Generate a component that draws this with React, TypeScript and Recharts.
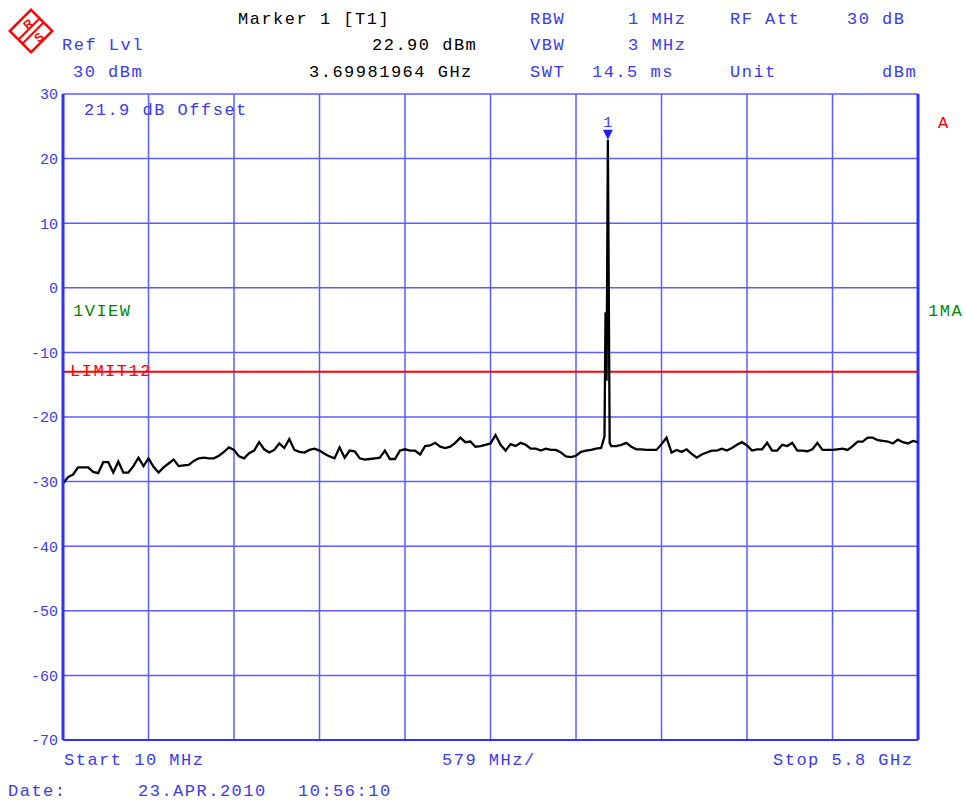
import { LineChart, Line, XAxis, YAxis, CartesianGrid, ReferenceLine, ReferenceDot } from "recharts";

// Sweep settings
const START_MHZ = 10;
const STOP_MHZ = 5800;

// Trace level (dBm) at evenly spaced sweep points
const traceDbm = [
  -30.3, -29.3, -28.9, -27.8, -27.8, -27.8, -28.5, -28.7, -27.0, -27.0,
  -28.6, -26.9, -28.6, -28.6, -27.6, -26.3, -27.6, -26.4, -27.7, -28.6,
  -27.8, -27.2, -26.6, -27.6, -27.5, -27.4, -26.8, -26.4, -26.3, -26.4,
  -26.4, -26.0, -25.4, -24.7, -25.1, -26.1, -26.4, -25.6, -25.2, -23.9,
  -25.0, -25.5, -25.1, -24.1, -24.8, -23.4, -25.1, -25.4, -25.5, -25.1,
  -24.9, -25.2, -25.7, -26.1, -26.4, -24.7, -26.3, -25.2, -25.3, -26.4,
  -26.6, -26.5, -26.4, -26.3, -25.2, -26.5, -26.5, -25.2, -25.0, -25.2,
  -25.2, -25.8, -24.5, -24.4, -24.0, -24.6, -24.8, -24.6, -24.0, -23.2,
  -23.9, -23.8, -24.6, -24.5, -24.3, -24.1, -22.8, -24.3, -25.2, -24.2,
  -24.5, -24.0, -24.3, -24.9, -24.9, -25.2, -24.9, -25.1, -25.1, -25.5,
  -26.1, -26.2, -26.0, -25.4, -25.2, -25.1, -24.9, -24.8, -4.3, -24.5,
  -24.5, -24.3, -24.0, -24.6, -25.0, -25.0, -25.1, -25.1, -25.1, -24.2,
  -23.2, -25.5, -25.1, -25.4, -25.0, -25.7, -26.3, -25.8, -25.5, -25.2,
  -25.2, -24.9, -25.2, -24.8, -24.3, -23.9, -24.4, -25.2, -25.0, -25.0,
  -24.0, -25.2, -25.2, -24.3, -24.5, -24.0, -25.2, -25.2, -25.3, -25.0,
  -24.0, -25.1, -25.1, -25.1, -25.0, -24.9, -25.1, -24.5, -23.8, -23.8,
  -23.2, -23.2, -23.6, -23.7, -23.8, -24.1, -23.5, -23.9, -24.1, -23.7,
  -23.9,
];

// Extra points around the carrier (narrower than one sweep step)
const peakFreqMhz = [3677, 3684, 3691, 3699.8, 3712];
const peakDbm = [-23.0, -3.8, -14.4, 22.9, -24.0];

const freqTicks = [10, 589, 1168, 1747, 2326, 2905, 3484, 4063, 4642, 5221, 5800];
const levelTicks = [-70, -60, -50, -40, -30, -20, -10, 0, 10, 20, 30];

const LIMIT_DBM = -13;
const MARKER_MHZ = 3699.8;
const MARKER_DBM = 22.9;

const MONO = "'Liberation Mono', 'DejaVu Sans Mono', monospace";
const BLUE = "#3a3af4";
const GRID = "#5c5cff";
const GREEN = "#008a00";
const RED = "#ff0000";

const step = (STOP_MHZ - START_MHZ) / (traceDbm.length - 1);
const traceData = [
  ...traceDbm.map((level, i) => ({ f: START_MHZ + i * step, level })),
  ...peakFreqMhz.map((f, i) => ({ f, level: peakDbm[i] })),
].sort((a, b) => a.f - b.f);

function MarkerShape(props: any) {
  const { cx, cy } = props;
  return (
    <g>
      <polygon points={`${cx - 5},${cy - 10} ${cx + 5},${cy - 10} ${cx},${cy}`} fill="#2020ff" />
      <text x={cx} y={cy - 13} textAnchor="middle" fill={BLUE} fontSize={15} fontFamily={MONO}>
        1
      </text>
    </g>
  );
}

function LimitLabel(props: any) {
  const { viewBox } = props;
  return (
    <text x={viewBox.x + 7} y={viewBox.y + 4} fill={RED} fontSize={17} fontFamily={MONO} letterSpacing={1.5}>
      LIMIT12
    </text>
  );
}

function T({ x, y, c = BLUE, children }: { x: number; y: number; c?: string; children: string }) {
  return (
    <text x={x} y={y} fill={c} fontSize={17} fontFamily={MONO} letterSpacing={1.5} style={{ whiteSpace: "pre" }}>
      {children}
    </text>
  );
}

function Logo() {
  return (
    <g transform="translate(31,31)">
      <rect x={-15} y={-15} width={30} height={30} transform="rotate(45)" fill="none" stroke={RED} strokeWidth={2.5} />
      <line x1={-13} y1={9} x2={9} y2={-13} stroke={RED} strokeWidth={2} />
      <line x1={-9} y1={13} x2={13} y2={-9} stroke={RED} strokeWidth={2} />
      <text x={-6} y={0} transform="rotate(-40 -6 -4)" fill={RED} fontSize={12} fontWeight="bold" fontFamily="Arial, sans-serif">
        R
      </text>
      <text x={5} y={13} transform="rotate(-40 5 9)" fill={RED} fontSize={12} fontWeight="bold" fontFamily="Arial, sans-serif">
        S
      </text>
    </g>
  );
}

export default function App() {
  return (
    <div style={{ position: "absolute", left: 0, top: 0, width: 966, height: 802, background: "#fff" }}>
      <LineChart width={966} height={802} data={traceData} margin={{ top: 94, right: 48, bottom: 32, left: 0 }}>
        <CartesianGrid stroke={GRID} strokeWidth={1.5} vertical={false} />
        <XAxis
          type="number"
          dataKey="f"
          domain={[START_MHZ, STOP_MHZ]}
          ticks={freqTicks}
          tick={false}
          tickLine={false}
          axisLine={{ stroke: "#3030ff", strokeWidth: 2 }}
          height={30}
          allowDataOverflow
        />
        <YAxis
          type="number"
          domain={[-70, 30]}
          ticks={levelTicks}
          interval={0}
          width={63}
          tickSize={0}
          tickMargin={5}
          tickLine={false}
          axisLine={{ stroke: "#3030ff", strokeWidth: 3 }}
          tick={{ fill: BLUE, fontSize: 15, fontFamily: MONO }}
        />
        {freqTicks.map((f) => (
          <ReferenceLine key={f} x={f} stroke={GRID} strokeWidth={1.5} />
        ))}
        <ReferenceLine x={STOP_MHZ} stroke="#3030ff" strokeWidth={3} />
        <ReferenceLine y={LIMIT_DBM} stroke={RED} strokeWidth={2} label={LimitLabel} />
        <Line
          type="linear"
          dataKey="level"
          stroke="#000"
          strokeWidth={2.3}
          dot={false}
          isAnimationActive={false}
        />
        <ReferenceDot x={MARKER_MHZ} y={MARKER_DBM} r={0} shape={MarkerShape} />
      </LineChart>

      <svg width={966} height={802} style={{ position: "absolute", left: 0, top: 0, pointerEvents: "none" }}>
        <Logo />
        {/* Header */}
        <T x={238} y={24} c="#000">Marker 1 [T1]</T>
        <T x={530} y={24}>RBW</T>
        <T x={628} y={24}>1 MHz</T>
        <T x={730} y={24}>RF Att</T>
        <T x={847} y={24}>30 dB</T>
        <T x={62} y={50}>Ref Lvl</T>
        <T x={372} y={50} c="#000">22.90 dBm</T>
        <T x={530} y={50}>VBW</T>
        <T x={628} y={50}>3 MHz</T>
        <T x={73} y={77}>30 dBm</T>
        <T x={309} y={77} c="#000">3.69981964 GHz</T>
        <T x={530} y={77}>SWT</T>
        <T x={592} y={77}>14.5 ms</T>
        <T x={730} y={77}>Unit</T>
        <T x={882} y={77}>dBm</T>
        {/* Inside / beside the grid */}
        <T x={84} y={115}>21.9 dB Offset</T>
        <T x={73} y={316} c={GREEN}>1VIEW</T>
        <T x={928} y={316} c={GREEN}>1MA</T>
        <T x={938} y={128} c={RED}>A</T>
        {/* Footer */}
        <T x={64} y={765}>Start 10 MHz</T>
        <T x={442} y={765}>579 MHz/</T>
        <T x={773} y={765}>Stop 5.8 GHz</T>
        <T x={8} y={796}>Date:</T>
        <T x={138} y={796}>23.APR.2010</T>
        <T x={298} y={796}>10:56:10</T>
      </svg>
    </div>
  );
}
